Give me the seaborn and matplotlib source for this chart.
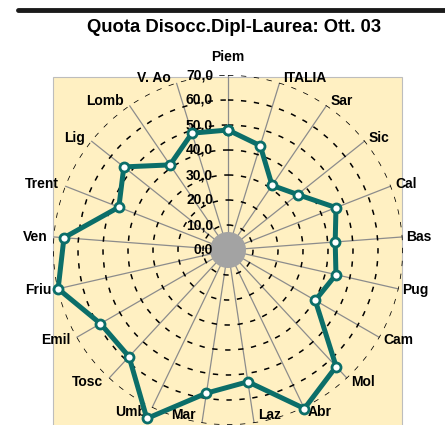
import numpy as np
import pandas as pd
import matplotlib
matplotlib.use("Agg")
import matplotlib.pyplot as plt
import seaborn as sns
from matplotlib.patches import Rectangle
from matplotlib.lines import Line2D

# ---------------- data ----------------
categories = ["Piem", "ITALIA", "Sar", "Sic", "Cal", "Bas", "Pug", "Cam", "Mol", "Abr",
              "Laz", "Mar", "Umb", "Tosc", "Emil", "Friu", "Ven", "Trent", "Lig", "Lomb", "V. Ao"]
values = [48.0, 43.7, 31.3, 35.6, 46.4, 43.0, 44.3, 40.3, 63.6, 70.4,
          53.3, 57.9, 74.8, 58.2, 58.9, 69.7, 65.8, 46.9, 53.3, 41.2, 48.9]
radial_ticks = [0, 10, 20, 30, 40, 50, 60, 70]
radial_labels = ["0,0", "10,0", "20,0", "30,0", "40,0", "50,0", "60,0", "70,0"]
title = "Quota Disocc.Dipl-Laurea: Ott. 03"

# ---------------- style ----------------
sns.set_style("white")
plt.rcParams["font.family"] = ["Liberation Sans", "DejaVu Sans"]
plt.rcParams["text.color"] = "black"

W, H = 445, 425
fig = plt.figure(figsize=(W / 100, H / 100), dpi=100)
fig.patch.set_facecolor("white")

# plot-area background (pale yellow)
bg = Rectangle((53 / W, -0.01), 349 / W, (H - 77) / H + 0.01, transform=fig.transFigure,
               facecolor="#FFF0C2", edgecolor="#BDBDBD", lw=0.8, zorder=0)
fig.add_artist(bg)

# heavy rule at the top
fig.add_artist(Line2D([18 / W, 1.0], [1 - 10 / H, 1 - 10 / H], transform=fig.transFigure,
                      color="#1a1a1a", lw=3.5))
fig.text(234 / W, 1 - 27 / H, title, ha="center", va="center", fontsize=13.3,
         fontweight="bold", color="black")

ax = fig.add_axes([53 / W, 0, 350 / W, 350 / H], projection="polar")
ax.set_facecolor("none")
ax.set_theta_zero_location("N")
ax.set_theta_direction(-1)

n = len(categories)
theta = np.arange(n) * 2 * np.pi / n

# centre disc
tt = np.linspace(0, 2 * np.pi, 120)
ax.fill(tt, np.full_like(tt, 7.2), color="#a3a3a3", zorder=1, lw=0)

df = pd.DataFrame({"theta": np.append(theta, 2 * np.pi), "value": values + [values[0]]})
teal = "#0B6E69"
sns.lineplot(data=df, x="theta", y="value", sort=False, ax=ax, color=teal, lw=3.6,
             marker="o", markersize=6.5, markerfacecolor="white", markeredgecolor=teal,
             markeredgewidth=2.0, zorder=5)
for l in ax.lines:
    l.set_clip_on(False)

ax.set_xlabel("")
ax.set_ylabel("")
ax.set_thetalim(0, 2 * np.pi)
ax.set_ylim(0, 70)
ax.set_xticks(theta)
ax.set_xticklabels([])
ax.set_yticks(radial_ticks[1:])
ax.set_yticklabels([])
ax.xaxis.grid(True, color="#8c8c8c", lw=0.9, ls="-")
ax.yaxis.grid(True, color="black", lw=1.1, ls=(0, (3.5, 5)))
ax.spines["polar"].set_visible(False)
ax.tick_params(length=0)

# radial value labels
for r, lab in zip(radial_ticks, radial_labels):
    ax.annotate(lab, xy=(0, r), xytext=(-15, 0), textcoords="offset pixels",
                ha="right", va="center", fontsize=10, fontweight="bold", zorder=3,
                color="black", annotation_clip=False)

# category labels
for lab, th in zip(categories, theta):
    s, c = np.sin(th), np.cos(th)
    if abs(s) < 1e-6:
        ax.annotate(lab, xy=(th, 70), xytext=(0, 18), textcoords="offset pixels",
                    ha="center", va="center", fontsize=10, fontweight="bold",
                    color="black", annotation_clip=False)
        continue
    ha = "left" if s > 0 else "right"
    ox = 4 if s > 0 else -6
    if c < -0.95:
        # bottom labels: keep them just inside the picture
        ax.annotate(lab, xy=(th, 70), xytext=(ox, 1), textcoords="offset pixels",
                    ha=ha, va="bottom", fontsize=10, fontweight="bold",
                    color="black", annotation_clip=False)
        continue
    oy = 5 * c
    ax.annotate(lab, xy=(th, 70), xytext=(ox, oy), textcoords="offset pixels",
                ha=ha, va="center", fontsize=10, fontweight="bold",
                color="black", annotation_clip=False)

fig.savefig("out.png", dpi=100)
